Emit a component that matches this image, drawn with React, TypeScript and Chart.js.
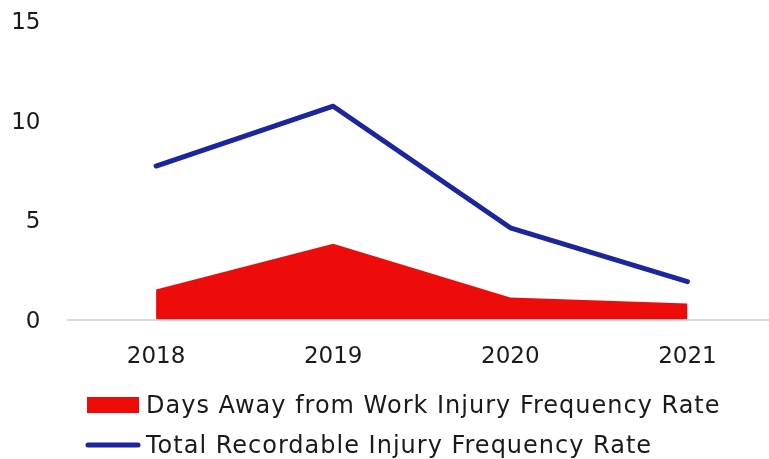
import React, { useEffect, useRef } from "react";
import Chart from "chart.js/auto";

const categories = ["2018", "2019", "2020", "2021"];
const daysAwayRate = [1.5, 3.8, 1.1, 0.8];
const totalRecordableRate = [7.7, 10.7, 4.6, 1.9];
const yTickValues = [0, 5, 10, 15];

const RED = "#ee0c0a";
const BLUE = "#1b259e";
const TEXT = "#1a1a1a";
const FONT = "'DejaVu Sans', sans-serif";
const TEXT_SHIFT = 2;

function makeBoxMarker(): HTMLCanvasElement {
  const c = document.createElement("canvas");
  c.width = 52;
  c.height = 16 + 2 * TEXT_SHIFT;
  const ctx = c.getContext("2d")!;
  ctx.fillStyle = RED;
  ctx.fillRect(0, 0, 52, 16);
  return c;
}

function makeLineMarker(): HTMLCanvasElement {
  const c = document.createElement("canvas");
  c.width = 56;
  c.height = 8 + 2 * TEXT_SHIFT;
  const ctx = c.getContext("2d")!;
  ctx.strokeStyle = BLUE;
  ctx.lineWidth = 5;
  ctx.lineCap = "round";
  ctx.beginPath();
  ctx.moveTo(3, 4);
  ctx.lineTo(53, 4);
  ctx.stroke();
  return c;
}

function wrapMethod(obj: any, name: string, chart: any, fn: (ctx: any) => void) {
  const flag = "__wrapped_" + name;
  if (!obj || obj[flag]) return;
  const orig = obj[name].bind(obj);
  obj[name] = (...args: any[]) => {
    const ctx = chart.ctx as any;
    ctx.save();
    fn(ctx);
    orig(...args);
    ctx.restore();
  };
  obj[flag] = true;
}

export default function App() {
  const ref = useRef<HTMLCanvasElement | null>(null);

  useEffect(() => {
    if (!ref.current) return;
    const markers = [makeBoxMarker(), makeLineMarker()];
    const layoutTweaks = {
      id: "layoutTweaks",
      afterLayout(chart: any) {
        const lg = chart.legend;
        if (lg) {
          lg.left = 76;
          wrapMethod(lg, "draw", chart, (ctx) => {
            ctx.letterSpacing = "1px";
            ctx.translate(0, TEXT_SHIFT);
          });
        }
        wrapMethod(chart.scales.y, "drawLabels", chart, (ctx) => {
          ctx.translate(0, 2.5);
        });
      },
    };
    const chart = new Chart(ref.current, {
      type: "line",
      data: {
        labels: categories,
        datasets: [
          {
            label: "Days Away from Work Injury Frequency Rate",
            data: daysAwayRate,
            backgroundColor: RED,
            borderColor: RED,
            borderWidth: 0,
            fill: "origin",
            pointRadius: 0,
            tension: 0,
          },
          {
            label: "Total Recordable Injury Frequency Rate",
            data: totalRecordableRate,
            backgroundColor: BLUE,
            borderColor: BLUE,
            borderWidth: 5,
            borderCapStyle: "round",
            borderJoinStyle: "round",
            fill: false,
            pointRadius: 0,
            tension: 0,
          },
        ],
      },
      options: {
        responsive: false,
        animation: false,
        devicePixelRatio: 1,
        layout: { padding: { top: 20.5, left: 0, right: 0, bottom: 0 } },
        scales: {
          x: {
            offset: true,
            grid: { display: false, drawTicks: false },
            border: { display: true, color: "#d9d9d9", width: 2 },
            ticks: {
              color: TEXT,
              font: { family: FONT, size: 23 },
              padding: 24,
              maxRotation: 0,
            },
            afterFit: (s: any) => {
              s.height = 57.5;
            },
          },
          y: {
            min: 0,
            max: 15,
            grid: { display: false, drawTicks: false },
            border: { display: false },
            afterBuildTicks: (s: any) => {
              s.ticks = yTickValues.map((v) => ({ value: v }));
            },
            ticks: {
              color: TEXT,
              font: { family: FONT, size: 23 },
              padding: 27,
            },
            afterFit: (s: any) => {
              s.width = 67.5;
              s.paddingTop = 0;
              s.paddingBottom = 0;
            },
          },
        },
        plugins: {
          tooltip: { enabled: false },
          legend: {
            position: "bottom",
            align: "start",
            labels: {
              usePointStyle: true,
              pointStyleWidth: 42,
              boxHeight: 16,
              padding: 16,
              color: TEXT,
              font: { family: FONT, size: 24 },
              generateLabels: (c: any) => {
                const items = Chart.defaults.plugins.legend.labels.generateLabels(c);
                return items.map((it: any, i: number) => ({
                  ...it,
                  pointStyle: markers[i],
                }));
              },
            },
          },
        },
      },
      plugins: [layoutTweaks],
    });
    return () => chart.destroy();
  }, []);

  return (
    <div
      style={{
        position: "fixed",
        left: 0,
        top: 0,
        width: 769,
        height: 459,
        overflow: "hidden",
        background: "#ffffff",
      }}
    >
      <canvas ref={ref} width={776} height={467} style={{ display: "block" }} />
    </div>
  );
}
